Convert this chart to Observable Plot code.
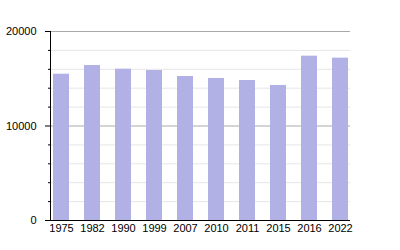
<!DOCTYPE html>
<html>
<head>
<meta charset="utf-8">
<script src="https://cdn.jsdelivr.net/npm/d3@7"></script>
<script src="https://cdn.jsdelivr.net/npm/@observablehq/plot@0.6"></script>
<style>
  html, body { margin: 0; padding: 0; background: #fff; }
  #chart { width: 400px; height: 250px; }
</style>
</head>
<body>
<div id="chart"></div>
<script>
const years = ["1975", "1982", "1990", "1999", "2007", "2010", "2011", "2015", "2016", "2022"];
const population = [15480, 16400, 16010, 15870, 15240, 15030, 14815, 14290, 17390, 17180];
const majorTicks = [0, 10000, 20000];
const minorTicks = [2000, 4000, 6000, 8000, 12000, 14000, 16000, 18000];

const data = years.map((y, i) => ({year: y, value: population[i]}));

const chart = Plot.plot({
  width: 400,
  height: 250,
  marginLeft: 50,
  marginRight: 50,
  marginTop: 31,
  marginBottom: 30,
  style: {fontFamily: "'Liberation Sans', Arial, sans-serif", fontSize: "11px", color: "#000", background: "#fff"},
  x: {domain: years, paddingInner: 0.49, paddingOuter: 0.02},
  y: {domain: [0, 20000]},
  marks: [
    Plot.ruleY(minorTicks, {stroke: "#e6e6e6", strokeWidth: 1}),
    Plot.ruleY([10000, 20000], {stroke: "#aaaaaa", strokeWidth: 1}),
    Plot.barY(data, {x: "year", y: "value", fill: "#b1b1e6"}),
    Plot.ruleY([0], {stroke: "#000", strokeWidth: 1}),
    Plot.frame({anchor: "left", stroke: "#000"}),
    Plot.axisY({ticks: majorTicks, tickSize: 5, tickPadding: 9, tickFormat: d => String(d), label: null, stroke: "#000", fill: "#000"}),
    Plot.axisY({ticks: minorTicks, tickSize: 2, tickFormat: () => "", label: null, stroke: "#000"}),
    Plot.axisX({tickSize: 0, tickPadding: 4, label: null, fill: "#000"})
  ]
});
document.getElementById("chart").appendChild(chart);
</script>
</body>
</html>
